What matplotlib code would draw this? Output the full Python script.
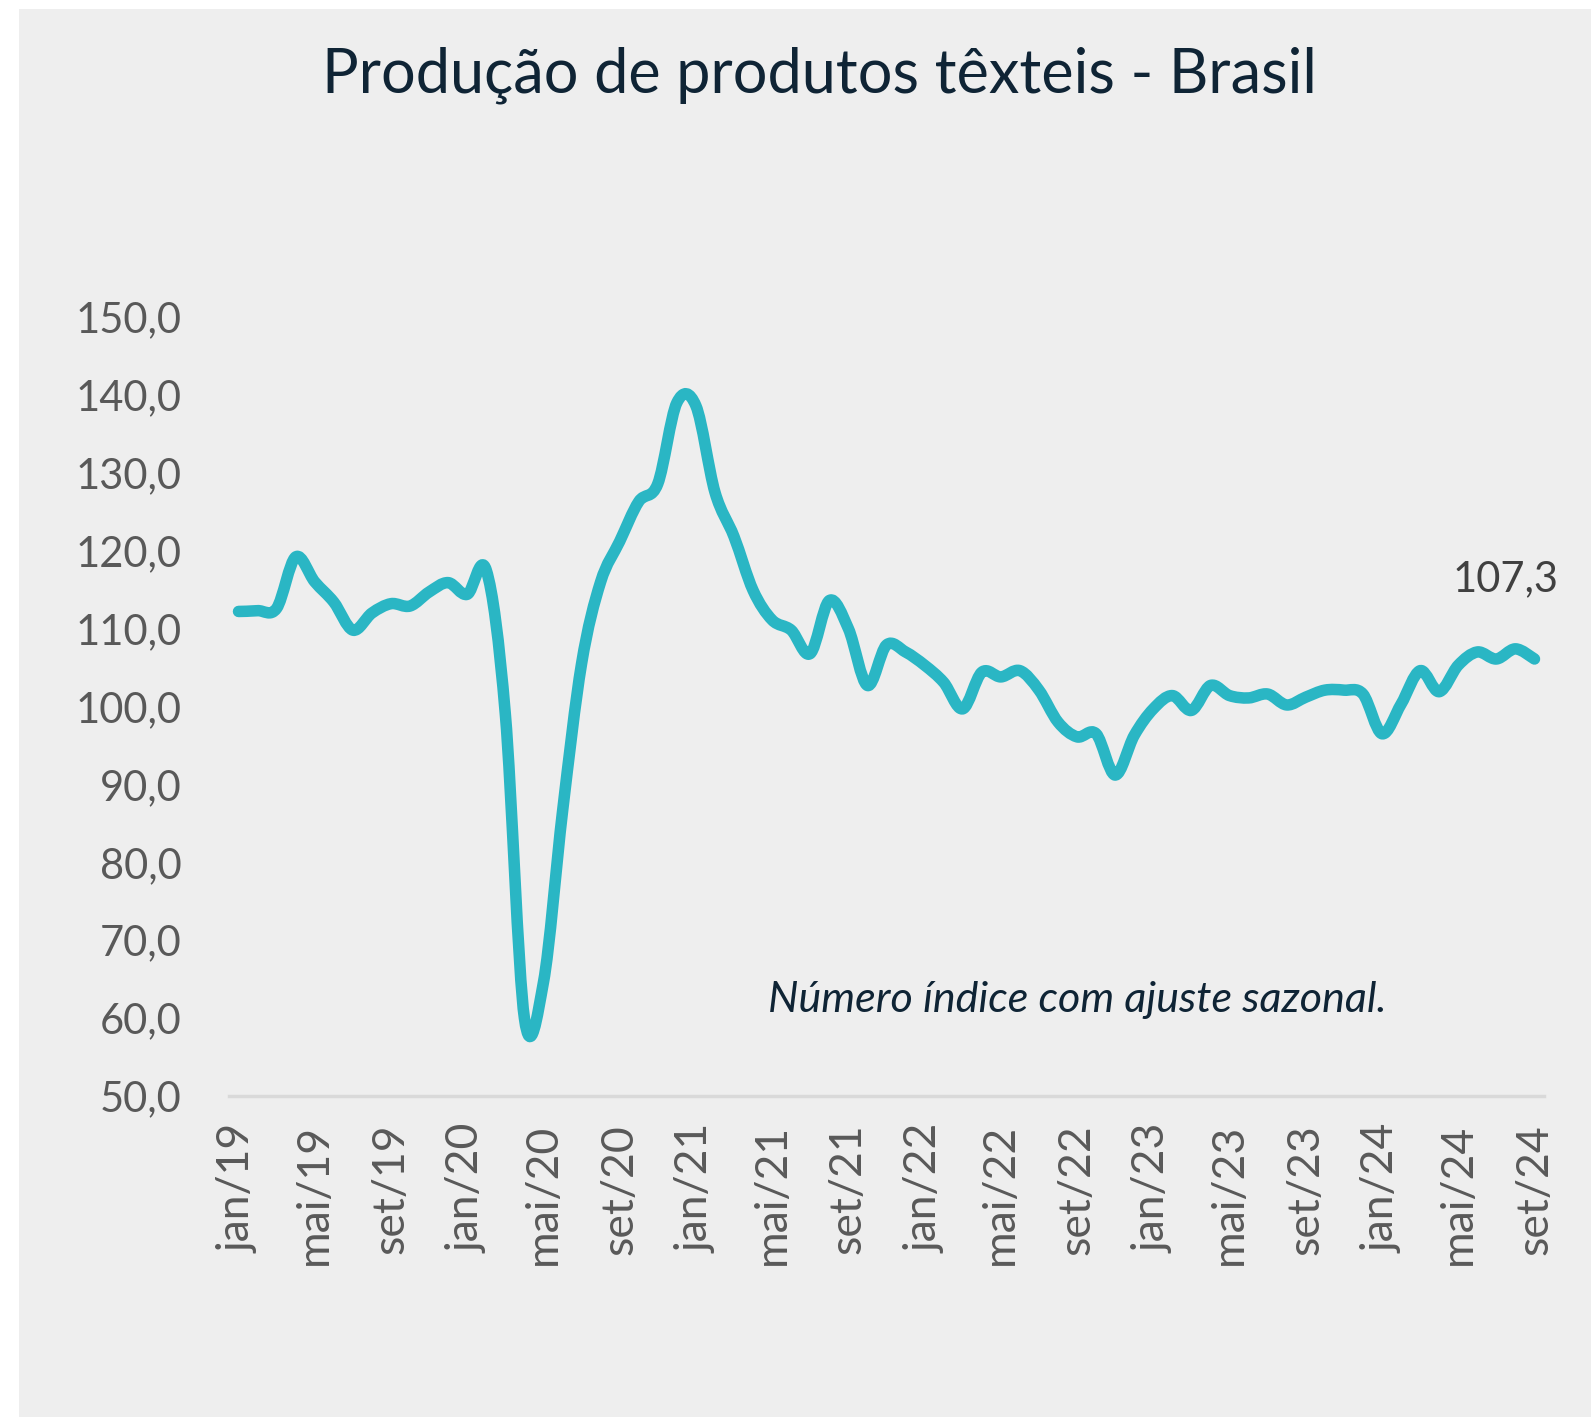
import numpy as np
import matplotlib
matplotlib.use('Agg')
import matplotlib.pyplot as plt
from matplotlib.path import Path
from matplotlib.patches import PathPatch, Rectangle

# monthly index, jan/19 .. set/24 (seasonally adjusted)
months = ['jan', 'fev', 'mar', 'abr', 'mai', 'jun', 'jul', 'ago', 'set', 'out', 'nov', 'dez']
years = ['19', '20', '21', '22', '23', '24']
values = [
    112.2, 112.3, 112.6, 119.2, 116.0, 113.4, 109.8, 112.0, 113.2, 112.9, 114.7, 115.9,
    114.4, 117.5, 99.0, 60.0, 64.6, 86.5, 105.5, 116.0, 121.2, 126.3, 128.6, 139.0,
    138.6, 127.5, 121.8, 114.9, 111.1, 109.8, 106.8, 113.6, 110.0, 102.7, 107.9, 107.0,
    105.3, 103.1, 99.7, 104.4, 103.8, 104.6, 102.1, 98.0, 96.1, 96.5, 91.2, 96.3,
    99.7, 101.4, 99.5, 102.7, 101.4, 101.1, 101.6, 100.2, 101.2, 102.1, 102.1, 101.6,
    96.5, 100.3, 104.6, 101.9, 105.3, 107.0, 106.1, 107.4, 106.1,
]
labels = [f'{m}/{y}' for y in years for m in months][:len(values)]
last_label = '107,3'
yticks = [50, 60, 70, 80, 90, 100, 110, 120, 130, 140, 150]

title = 'Produção de produtos têxteis - Brasil'
note = 'Número índice com ajuste sazonal.'

line_color = '#2ab6c4'
bg = '#eeeeee'
text_dark = '#0f2435'
tick_grey = '#595959'


def smooth_path(x, y):
    # excel-like smoothed line: cubic bezier through every point
    pts = np.column_stack([x, y]).astype(float)
    verts = [pts[0]]
    codes = [Path.MOVETO]
    n = len(pts)
    for i in range(n - 1):
        p0 = pts[i - 1] if i > 0 else pts[i]
        p1 = pts[i]
        p2 = pts[i + 1]
        p3 = pts[i + 2] if i + 2 < n else pts[i + 1]
        c1 = p1 + (p2 - p0) / 6.0
        c2 = p2 - (p3 - p1) / 6.0
        verts += [c1, c2, p2]
        codes += [Path.CURVE4] * 3
    return Path(verts, codes)


plt.rcParams['font.family'] = ['Lato', 'DejaVu Sans']

fig = plt.figure(figsize=(15.91, 14.17), dpi=100, facecolor='white')
fig.patches.append(Rectangle((19 / 1591, 0), 1 - 19 / 1591, 1 - 9 / 1417,
                             transform=fig.transFigure, facecolor=bg,
                             edgecolor='none', zorder=-10))

ax = fig.add_axes([229 / 1591, 1 - 1096 / 1417, (1544 - 229) / 1591, (1096 - 317) / 1417])
ax.set_facecolor('none')
ax.set_zorder(2)

x = np.arange(len(values))
patch = PathPatch(smooth_path(x, values), facecolor='none', edgecolor=line_color,
                  lw=8.3, capstyle='round', joinstyle='round', zorder=3)
ax.add_patch(patch)

ax.set_xlim(-0.5, len(values) - 0.5)
ax.set_ylim(50, 150)

ax.set_yticks(yticks)
ax.set_yticklabels([f'{v:.1f}'.replace('.', ',') for v in yticks])
ax.set_xticks(x[::4])
ax.set_xticklabels(labels[::4], rotation=90)

ax.tick_params(axis='y', length=0, pad=34, labelsize=30, labelcolor=tick_grey)
ax.tick_params(axis='x', length=0, pad=20, labelsize=32, labelcolor=tick_grey)

for s in ['top', 'right', 'left']:
    ax.spines[s].set_visible(False)
ax.spines['bottom'].set_color('#d9d9d9')
ax.spines['bottom'].set_linewidth(2.5)

ax.annotate(last_label, (x[-1], values[-1]), xytext=(-21, 44), textcoords='offset points',
            ha='center', va='bottom', fontsize=30, color='#404040')

fig.text(1077 / 1591, 1 - 1000 / 1417, note, ha='center', va='center',
         fontsize=31, style='italic', color=text_dark)
fig.suptitle(title, x=819 / 1591, y=1 - 75 / 1417, va='center',
             fontsize=44, color=text_dark)

fig.savefig('out.png', dpi=100, facecolor=fig.get_facecolor())
